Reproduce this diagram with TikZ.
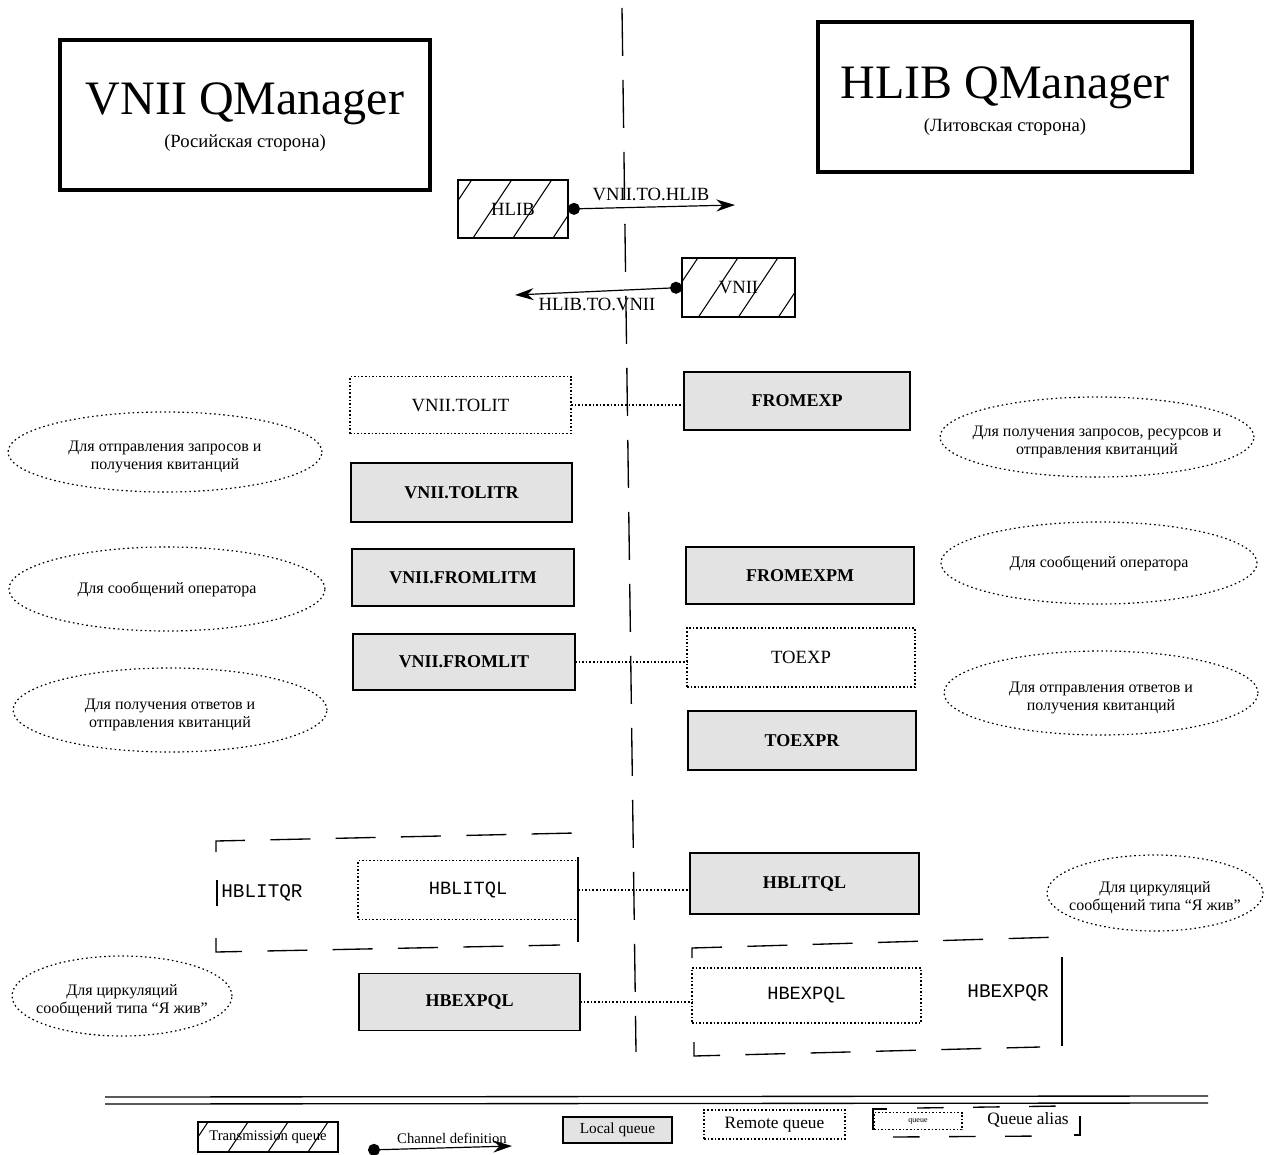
\documentclass[tikz,border=0pt]{standalone}
\usepackage{fontspec}
\setmainfont{Liberation Serif}
\setmonofont{Liberation Mono}
\usetikzlibrary{arrows.meta,shapes.geometric,calc}
\newcommand\notetxt[2][-7pt]{\smash{\makebox[0pt]{\raisebox{#1}{\begin{tabular}{@{}c@{}}#2\end{tabular}}}}}
\begin{document}
\begin{tikzpicture}[x=0.75pt,y=-0.75pt,
  sz/.style 2 args={minimum width=#1*0.75pt, minimum height=#2*0.75pt},
  qbase/.style={rectangle, inner sep=0pt, outer sep=0pt, align=center},
  localq/.style={qbase, draw, line width=1.1pt, fill=gray!22, font=\fontsize{13.5}{16}\selectfont\bfseries},
  remoteq/.style={qbase, draw, line width=0.9pt, dash pattern=on 1.2pt off 1.5pt, font=\fontsize{14}{16}\selectfont},
  monoq/.style={remoteq, font=\fontsize{14}{16}\selectfont\ttfamily},
  xmitq/.style={qbase, draw, line width=1pt, font=\fontsize{14}{16}\selectfont,
     path picture={\foreach \i in {-5,...,5}{\draw[line width=0.8pt] ($(path picture bounding box.south)+(\i*30pt,0)$) -- ++(30pt,45pt);}}},
  note/.style={ellipse, draw, line width=0.9pt, dash pattern=on 1.2pt off 2.2pt, inner sep=0pt, font=\fontsize{12}{13.5}\selectfont},
  titlebox/.style={rectangle, draw, line width=2.4pt, inner sep=0pt},
  titletext/.style={font=\fontsize{36}{40}\selectfont, inner sep=0pt},
  subtext/.style={font=\fontsize{14}{16}\selectfont, inner sep=0pt},
  qlink/.style={line width=0.9pt, dash pattern=on 1.2pt off 1.5pt},
  chan/.style={line width=0.9pt, {Circle[length=9pt]}-{Stealth[length=14pt,width=9pt]}},
  chanlabel/.style={font=\fontsize{14}{16}\selectfont, inner sep=0pt},
  aliasdash/.style={line width=1pt, dash pattern=on 30pt off 19pt},
  centerdash/.style={line width=1pt, dash pattern=on 36pt off 18pt},
  aliasname/.style={font=\fontsize{14.5}{16}\selectfont\ttfamily, inner sep=0pt},
  legtext/.style={inner sep=0pt, font=\fontsize{12}{14}\selectfont}
]
\useasboundingbox (0,0) rectangle (1273,1155);

% centre divider
\coordinate (divtop) at (622,8);
\coordinate (divbot) at (636,1052);
\draw[centerdash] (divtop) -- (divbot);

% titles
\node[titlebox, sz={370}{150}] (vniibox) at (245,115) {};
\node[titletext] (vniititle) at (245,104) {VNII QManager};
\node[subtext] (vniisub) at (245,143) {(Росийская сторона)};
\node[titlebox, sz={374}{150}] (hlibbox) at (1005,97) {};
\node[titletext] (hlibtitle) at (1005,88) {HLIB QManager};
\node[subtext] (hlibsub) at (1005,127) {(Литовская сторона)};

% transmission queues and channels
\node[xmitq, sz={110}{58}] (hlibx) at (513,209) {HLIB};
\coordinate (tohlibend) at (735,205);
\draw[chan] (hlibx.east) -- (tohlibend);
\node[chanlabel] (tohliblab) at (651,194) {VNII.TO.HLIB};

\node[xmitq, sz={113}{59}] (vniix) at (738.5,287.5) {VNII};
\coordinate (tovniiend) at (515,295);
\draw[chan] (vniix.west) -- (tovniiend);
\node[chanlabel] (tovniilab) at (597,304) {HLIB.TO.VNII};

% queues
\node[remoteq, sz={221}{57}] (tolit) at (460.5,405) {VNII.TOLIT};
\node[localq, sz={226}{58}] (fromexp) at (797,401) {FROMEXP};
\draw[qlink] (tolit.east) -- (tolit.east -| fromexp.west);

\node[localq, sz={221}{59}] (tolitr) at (461.5,492.5) {VNII.TOLITR};
\node[localq, sz={222}{57}] (fromlitm) at (463,577.5) {VNII.FROMLITM};
\node[localq, sz={228}{57}] (fromexpm) at (800,575.5) {FROMEXPM};

\node[localq, sz={222}{56}] (fromlit) at (464,662) {VNII.FROMLIT};
\node[remoteq, sz={228}{59}] (toexp) at (801,657.5) {TOEXP};
\draw[qlink] (fromlit.east) -- (fromlit.east -| toexp.west);

\node[localq, sz={228}{59}] (toexpr) at (802,740.5) {TOEXPR};

% alias group left
\draw[aliasdash] (216,852) -- (216,841) -- (575,833);
\draw[aliasdash] (216,938) -- (216,952) -- (560,945);
\draw[line width=1pt] (217,880) -- (217,906);
\draw[line width=1pt] (578,857) -- (578,942);
\node[aliasname] (hblitqr) at (262,893) {HBLITQR};
\node[monoq, sz={220}{59}] (hblitqlr) at (468,890) {HBLITQL};
\node[localq, sz={229}{61}] (hblitql) at (804.5,883.5) {HBLITQL};
\draw[qlink] (hblitqlr.east) -- (hblitqlr.east -| hblitql.west);

% alias group right
\draw[aliasdash] (692,958) -- (692,948) -- (1060,937);
\draw[aliasdash] (694,1042) -- (694,1056) -- (1040,1047);
\draw[line width=1pt] (1062,957) -- (1062,1046);
\node[aliasname] (hbexpqr) at (1008,993) {HBEXPQR};
\node[localq, sz={221}{57}] (hbexpql) at (469.5,1002) {HBEXPQL};
\node[monoq, sz={229}{55}] (hbexpqlr) at (806.5,995.5) {HBEXPQL};
\draw[qlink] (hbexpql.east) -- (hbexpql.east -| hbexpqlr.west);

% notes
\node[note, sz={314}{80}] (n1) at (165,452) {\notetxt{Для отправления запросов и\\получения квитанций}};
\node[note, sz={316}{84}] (n2) at (167,589) {\notetxt[-3.5pt]{Для сообщений оператора}};
\node[note, sz={314}{84}] (n3) at (170,710) {\notetxt{Для получения ответов и\\отправления квитанций}};
\node[note, sz={314}{80}] (n4) at (1097,437) {\notetxt{Для получения запросов, ресурсов и\\отправления квитанций}};
\node[note, sz={316}{82}] (n5) at (1099,563) {\notetxt[-3.5pt]{Для сообщений оператора}};
\node[note, sz={314}{84}] (n6) at (1101,693) {\notetxt{Для отправления ответов и\\получения квитанций}};
\node[note, sz={220}{80}] (n7) at (122,996) {\notetxt{Для циркуляций\\сообщений типа “Я жив”}};
\node[note, sz={216}{76}] (n8) at (1155,893) {\notetxt{Для циркуляций\\сообщений типа “Я жив”}};

% legend separator
\draw[line width=1pt] (105,1097) -- (1208,1096);
\draw[line width=1pt] (105,1104) -- (1208,1103);

% legend
\node[xmitq, sz={140}{30}, font=\fontsize{11}{13}\selectfont] (legx) at (268,1137) {Transmission queue};
\coordinate (legchA) at (368,1150);
\coordinate (legchB) at (512,1146);
\draw[chan] (legchA) -- (legchB);
\node[legtext, font=\fontsize{11}{13}\selectfont] (legchlab) at (452,1138) {Channel definition};
\node[localq, sz={109}{26}, font=\fontsize{11.5}{13}\selectfont] (legl) at (617.5,1130) {Local queue};
\node[remoteq, sz={141}{29}, font=\fontsize{13}{15}\selectfont] (legr) at (774.5,1124.5) {Remote queue};
\node[remoteq, sz={88}{17}, font=\fontsize{6}{7}\selectfont] (lega) at (918,1121) {queue};
\node[legtext, font=\fontsize{13}{15}\selectfont] (legalab) at (1028,1120) {Queue alias};
\draw[line width=1pt] (887,1109) -- (873,1109) -- (873,1130);
\draw[aliasdash, dash pattern=on 20pt off 22pt] (917,1108) -- (1062,1106);
\draw[aliasdash, dash pattern=on 20pt off 22pt] (893,1137) -- (1045,1136);
\draw[line width=1pt] (1080,1116) -- (1080,1135) -- (1074,1135);
\end{tikzpicture}
\end{document}
